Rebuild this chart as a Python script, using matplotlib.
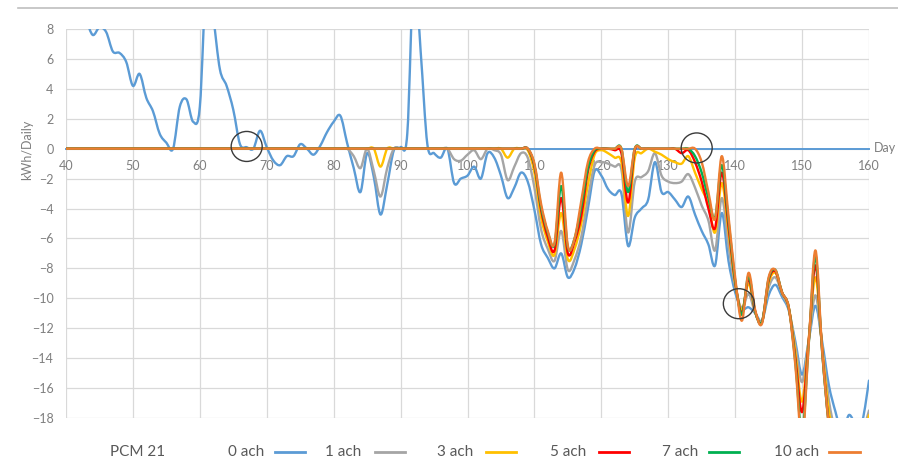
import numpy as np
import matplotlib
matplotlib.use("Agg")
import matplotlib.pyplot as plt
from matplotlib.path import Path
from matplotlib.patches import PathPatch, Ellipse
from matplotlib.lines import Line2D

plt.rcParams['font.family'] = ['Lato', 'DejaVu Sans']

days = np.arange(40, 161)

ach0 = [11.5, 10.5, 9.5, 8.6, 7.6, 8.1, 7.8, 6.5, 6.4, 5.8,
        4.2, 5.0, 3.4, 2.5, 1.0, 0.4, 0.0, 2.8, 3.3, 1.8,
        2.8, 11.5, 8.8, 5.3, 4.2, 2.6, 0.3, 0.1, 0.0, 1.2,
        0.1, -0.8, -1.1, -0.5, -0.5, 0.3, 0.0, -0.4, 0.2, 1.1,
        1.8, 2.2, 0.4, -1.3, -2.9, -0.3, -1.9, -4.4, -2.4, -0.1,
        0.1, 1.0, 12.0, 6.5, 0.3, -0.3, -0.6, 0.0, -2.3, -2.0,
        -1.8, -1.2, -2.0, -0.3, -0.6, -1.8, -3.3, -2.6, -1.6, -2.2,
        -4.1, -6.4, -7.3, -8.0, -7.0, -8.6, -8.0, -6.4, -4.0, -1.5,
        -1.8, -2.7, -3.1, -3.0, -6.5, -4.6, -4.0, -3.4, -0.9, -2.9,
        -2.9, -3.4, -3.9, -3.2, -4.4, -5.5, -6.4, -7.8, -4.3, -7.5,
        -9.6, -10.7, -10.6, -11.0, -11.5, -9.8, -9.1, -9.9, -10.8, -12.9,
        -15.1, -12.8, -10.5, -12.9, -15.8, -17.6, -19.0, -17.8, -18.4, -18.2,
        -15.5]

ach1 = [0.0] * 43 + [
        -0.5, -1.3, 0.0, -1.5, -3.2, -1.3, 0.0] + [0.0] * 8 + [
        -0.7, -0.8, -0.4, -0.1, -0.7, 0.0, -0.1, -0.4, -2.1, -1.2,
        -0.3, -0.6, -2.6, -5.4, -6.7, -7.5, -5.5, -8.1, -7.4, -5.9,
        -3.3, -1.1, -0.9, -1.0, -1.2, -1.4, -5.6, -2.2, -1.9, -1.5,
        -0.3, -1.8, -2.2, -2.3, -2.2, -1.7, -2.6, -3.8, -4.8, -6.8,
        -3.3, -6.5, -9.2, -10.7, -9.7, -11.0, -11.5, -9.3, -8.6, -9.7,
        -10.7, -13.2, -15.6, -12.8, -9.8, -13.2, -16.8, -19.0, -20.0, -20.0,
        -19.5, -19.0, -17.5]

ach3 = [0.0] * 47 + [-1.2] + [0.0] * 18 + [
        -0.6, 0.0, 0.0, -0.1, -1.6, -4.6, -6.2, -7.1, -4.3, -7.4,
        -6.7, -5.0, -2.4, -0.4, -0.1, -0.3, -0.6, -0.9, -4.5, -0.6,
        -0.3, 0.0, -0.2, -0.4, -0.7, -0.9, -1.0, -0.5, -1.6, -2.7,
        -3.7, -5.6, -2.3, -5.6, -9.0, -10.8, -9.0, -10.9, -11.6, -9.0,
        -8.3, -9.6, -10.6, -13.6, -16.9, -12.7, -8.6, -13.3, -17.5, -19.5,
        -21.0, -21.0, -20.0, -19.5, -17.8]

ach5 = [0.0] * 70 + [
        -1.2, -4.1, -5.9, -6.8, -3.3, -7.0, -6.2, -4.5, -1.5, -0.2,
        0.0, 0.0, -0.1, -0.3, -3.6, -0.1] + [0.0] * 6 + [
        -0.3, -0.1, -0.9, -2.2, -4.0, -5.3, -1.6, -5.2, -8.9, -11.0,
        -8.7, -10.9, -11.6, -8.8, -8.2, -9.6, -10.6, -14.0, -17.6, -12.8,
        -7.8, -13.5, -18.4, -21.0] + [-22.0] * 5

ach7 = [0.0] * 70 + [
        -1.1, -3.9, -5.6, -6.4, -2.5, -6.6, -6.0, -3.9, -1.3, -0.1] + [0.0] * 4 + [
        -2.9] + [0.0] * 9 + [
        -0.5, -1.6, -3.3, -4.6, -1.1, -4.8, -8.8, -11.1, -8.5, -10.9,
        -11.6, -8.7, -8.1, -9.6, -10.6, -14.3, -19.0, -13.0, -7.2, -13.6,
        -18.5] + [-22.0] * 6

ach10 = [0.0] * 70 + [
        -1.0, -3.7, -5.5, -6.3, -1.6, -6.5, -6.0, -3.5, -0.9] + [0.0] * 5 + [
        -2.5] + [0.0] * 10 + [
        -0.9, -2.9, -4.7, -0.5, -4.5, -8.6, -11.5, -8.3, -10.8, -11.7,
        -8.6, -8.1, -9.6, -10.6, -14.5, -19.5, -13.0, -6.8, -13.5, -18.6] + [-23.0] * 6

labels = ['0 ach', '1 ach', '3 ach', '5 ach', '7 ach', '10 ach']
colors = ['#5B9BD5', '#A5A5A5', '#FFC000', '#FF0000', '#00B050', '#ED7D31']
series = [ach0, ach1, ach3, ach5, ach7, ach10]

for s in series:
    assert len(s) == len(days), len(s)


def smooth_path(x, y):
    # excel style smoothed line: catmull-rom turned into bezier segments
    pts = np.column_stack([x, y]).astype(float)
    n = len(pts)
    verts = [pts[0]]
    codes = [Path.MOVETO]
    for i in range(n - 1):
        p0 = pts[i - 1] if i > 0 else pts[i]
        p1 = pts[i]
        p2 = pts[i + 1]
        p3 = pts[i + 2] if i + 2 < n else pts[i + 1]
        verts += [p1 + (p2 - p0) / 6, p2 - (p3 - p1) / 6, p2]
        codes += [Path.CURVE4] * 3
    return Path(verts, codes)


W, H = 898, 469
fig = plt.figure(figsize=(W / 100, H / 100), dpi=100)
ax = fig.add_axes([66 / W, 1 - 418 / H, (869 - 66) / W, (418 - 29) / H])

for s, c in zip(series, colors):
    ax.add_patch(PathPatch(smooth_path(days, s), fill=False, edgecolor=c,
                           lw=1.7, zorder=3, capstyle='round', joinstyle='round'))

ax.set_xlim(40, 160)
ax.set_ylim(-18, 8)
ax.set_xticks(np.arange(40, 161, 10))
ax.set_yticks(np.arange(-18, 9, 2))
ax.grid(True, color='#D9D9D9', lw=0.9)
ax.set_axisbelow(True)

for side in ['top', 'right', 'left']:
    ax.spines[side].set_visible(False)
ax.spines['bottom'].set_position(('data', 0))
ax.spines['bottom'].set_color('#5B9BD5')
ax.spines['bottom'].set_linewidth(1.4)
ax.spines['bottom'].set_zorder(2.5)
ax.tick_params(axis='both', length=0, labelsize=9, labelcolor='#7F7F7F')
ax.tick_params(axis='x', pad=8)
ax.tick_params(axis='y', pad=9)

# hand drawn circles on the chart
for cx, cy in [(67.0, 0.15), (134.25, 0.05), (140.55, -10.36)]:
    ax.add_patch(Ellipse((cx, cy), 31 / 6.69, 30 / 14.96, fill=False,
                         edgecolor='#3A3A3A', lw=1.0, zorder=5))

fig.text(27 / W, 1 - 150 / H, 'kWh/Daily', rotation=90, ha='center', va='center',
         fontsize=9, color='#7F7F7F')
fig.text(874 / W, 1 - 148 / H, 'Day', ha='left', va='center', fontsize=9,
         color='#7F7F7F')

# top border line
fig.add_artist(Line2D([18 / W, 1], [1 - 8 / H, 1 - 8 / H], color='#BFBFBF', lw=1.2))

# legend along the bottom
ly = 1 - 452 / H
fig.text(138 / W, ly, 'PCM 21', ha='center', va='center', fontsize=11, color='#595959')
text_x = [228, 325, 437, 550, 662, 774]
line_x = [(275, 305), (375, 405), (486, 516), (599, 629), (709, 739), (829, 860)]
for lab, c, tx, (a, b) in zip(labels, colors, text_x, line_x):
    fig.text(tx / W, ly, lab, ha='left', va='center', fontsize=11, color='#595959')
    fig.add_artist(Line2D([a / W, b / W], [ly, ly], color=c, lw=2))

fig.savefig('out.png', dpi=100)
